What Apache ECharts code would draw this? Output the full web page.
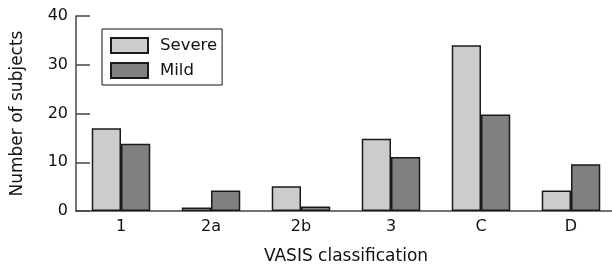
<!DOCTYPE html>
<html>
<head>
<meta charset="utf-8">
<script src="https://cdn.jsdelivr.net/npm/echarts@6/dist/echarts.min.js"></script>
<style>
	html, body { margin: 0; padding: 0; background: #fff; }
	#chart { width: 612px; height: 265px; }
</style>
</head>
<body>
<div id="chart"></div>
<script>
// data
var categories = ['1', '2a', '2b', '3', 'C', 'D'];
var severe = [17, 0.7, 5.1, 14.8, 34, 4.2];
var mild = [13.8, 4.2, 0.9, 11.1, 19.8, 9.6];
var yTicks = [0, 10, 20, 30, 40];

var font = '"DejaVu Sans", sans-serif';
var chart = echarts.init(document.getElementById('chart'));

chart.setOption({
	animation: false,
	textStyle: { fontFamily: font },
	grid: { left: 76, top: 16, width: 540, height: 195, outerBoundsMode: 'none' },
	legend: {
		orient: 'vertical',
		left: 102,
		top: 29,
		padding: [8, 5, 6, 8],
		borderColor: '#111',
		borderWidth: 1,
		icon: 'rect',
		itemWidth: 37,
		itemHeight: 15,
		itemGap: 8,
		selectedMode: false,
		textStyle: { fontFamily: font, fontSize: 16.5, color: '#111', padding: [0, 0, 0, 7] },
		data: ['Severe', 'Mild']
	},
	xAxis: {
		type: 'category',
		data: categories,
		name: 'VASIS classification',
		nameLocation: 'middle',
		nameGap: 37,
		nameTextStyle: { fontFamily: font, fontSize: 17, color: '#111' },
		axisLine: { lineStyle: { color: '#444', width: 1.5 } },
		axisTick: { inside: true, length: 13, lineStyle: { color: '#444', width: 1.5 } },
		axisLabel: { fontFamily: font, fontSize: 16, color: '#111', margin: 8 }
	},
	yAxis: {
		type: 'value',
		min: yTicks[0],
		max: yTicks[yTicks.length - 1],
		interval: 10,
		name: 'Number of subjects',
		nameLocation: 'middle',
		nameGap: 50,
		nameTextStyle: { fontFamily: font, fontSize: 17, color: '#111' },
		splitLine: { show: false },
		axisLine: { show: true, lineStyle: { color: '#444', width: 1.5 } },
		axisTick: { show: true, inside: true, length: 14, lineStyle: { color: '#444', width: 1.5 } },
		axisLabel: { fontFamily: font, fontSize: 16, color: '#111', margin: 8 }
	},
	series: [
		{
			name: 'Severe',
			type: 'bar',
			data: severe,
			barGap: '0%',
			barCategoryGap: '35%',
			itemStyle: { color: '#cccccc', borderColor: '#1a1a1a', borderWidth: 1.5 }
		},
		{
			name: 'Mild',
			type: 'bar',
			data: mild,
			itemStyle: { color: '#808080', borderColor: '#1a1a1a', borderWidth: 1.5 }
		}
	]
});
</script>
</body>
</html>
